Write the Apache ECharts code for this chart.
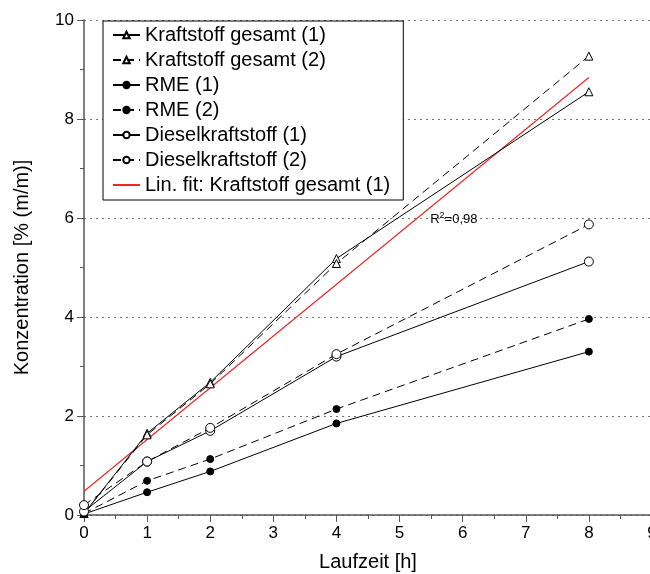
<!DOCTYPE html>
<html><head><meta charset="utf-8">
<script src="https://cdn.jsdelivr.net/npm/echarts@6/dist/echarts.min.js"></script>
<style>html,body{margin:0;padding:0;background:#fff}#c{width:650px;height:574px}</style>
</head><body><div id="c"></div>
<script>
const hours = [0, 1, 2, 4, 8];
const kraft1 = [0.03, 1.65, 2.68, 5.18, 8.55];
const kraft2 = [0.03, 1.62, 2.65, 5.08, 9.27];
const rme1 = [0.02, 0.46, 0.88, 1.85, 3.30];
const rme2 = [0.03, 0.69, 1.13, 2.14, 3.96];
const diesel1 = [0.07, 1.08, 1.70, 3.20, 5.12];
const diesel2 = [0.20, 1.08, 1.76, 3.25, 5.87];
const fitX = [0, 8];
const fitY = [0.48, 8.84];
const names = ['Kraftstoff gesamt (1)', 'Kraftstoff gesamt (2)', 'RME (1)', 'RME (2)', 'Dieselkraftstoff (1)', 'Dieselkraftstoff (2)', 'Lin. fit: Kraftstoff gesamt (1)'];

const FONT = 'Liberation Sans';
const pairs = (xs, ys) => xs.map((x, i) => [x, ys[i]]);
const dash = [8, 5];
function mk(name, ys, symbol, filled, dashed, size) {
  return {
    name, type: 'line', data: pairs(hours, ys), symbol, symbolSize: size,
    lineStyle: { color: '#000', width: 1, type: dashed ? dash : 'solid' },
    itemStyle: { color: filled ? '#000' : '#fff', borderColor: '#000', borderWidth: 1 },
    emphasis: { disabled: true }, z: 3
  };
}
const legendData = names.map((n, i) => i === 6
  ? { name: n, itemStyle: { color: 'rgba(0,0,0,0)', borderWidth: 0, borderColor: 'rgba(0,0,0,0)' } }
  : { name: n });
const chart = echarts.init(document.getElementById('c'));
chart.setOption({
  animation: false,
  textStyle: { fontFamily: FONT },
  grid: { left: 84, right: -2, top: 20, bottom: 59, containLabel: false, outerBoundsMode: 'none' },
  legend: {
    orient: 'vertical', left: 103, top: 21, padding: [4, 13, 5, 9],
    backgroundColor: '#fff', borderColor: '#000', borderWidth: 1,
    itemWidth: 27, itemHeight: 8, itemGap: 5,
    textStyle: { fontSize: 20, color: '#000', fontFamily: FONT },
    data: legendData, selectedMode: false, z: 10
  },
  xAxis: {
    type: 'value', min: 0, max: 9, interval: 1,
    name: 'Laufzeit [h]', nameLocation: 'middle', nameGap: 37,
    nameTextStyle: { fontSize: 20, color: '#000', fontFamily: FONT },
    axisLine: { lineStyle: { color: '#555', width: 1.5 } },
    axisTick: { show: true, length: 7, lineStyle: { color: '#555' } },
    minorTick: { show: true, splitNumber: 2, length: 4, lineStyle: { color: '#555' } },
    axisLabel: { fontSize: 17, color: '#000', margin: 10, fontFamily: FONT },
    splitLine: { show: false }
  },
  yAxis: {
    type: 'value', min: 0, max: 10, interval: 2,
    name: 'Konzentration [% (m/m)]', nameLocation: 'middle', nameGap: 52,
    nameTextStyle: { fontSize: 20, color: '#000', fontFamily: FONT },
    axisLine: { show: true, lineStyle: { color: '#555', width: 1.5 } },
    axisTick: { show: true, length: 7, lineStyle: { color: '#555' } },
    minorTick: { show: true, splitNumber: 2, length: 4, lineStyle: { color: '#555' } },
    axisLabel: { fontSize: 17, color: '#000', margin: 10, fontFamily: FONT },
    splitLine: { show: true, lineStyle: { color: '#777', type: [2, 4], width: 1.2 } }
  },
  series: [
    mk(names[0], kraft1, 'triangle', false, false, 8),
    mk(names[1], kraft2, 'triangle', false, true, 8),
    mk(names[2], rme1, 'circle', true, false, 7),
    mk(names[3], rme2, 'circle', true, true, 7),
    mk(names[4], diesel1, 'circle', false, false, 9),
    mk(names[5], diesel2, 'circle', false, true, 9),
    {
      name: names[6], type: 'line', data: pairs(fitX, fitY), symbol: 'none',
      lineStyle: { color: '#e8282a', width: 1.2 }, itemStyle: { color: '#e8282a' },
      emphasis: { disabled: true }, z: 2,
      markPoint: {
        symbol: 'circle', symbolSize: 0, silent: true,
        data: [{ coord: [5.86, 5.98] }],
        label: {
          show: true, position: 'inside',
          formatter: '{a|R}{s|2}{a|=0,98}',
          rich: {
            a: { fontSize: 13, color: '#000', fontFamily: FONT },
            s: { fontSize: 9, color: '#000', fontFamily: FONT, padding: [0, 0, 7, 0] }
          }
        }
      }
    }
  ]
});
</script></body></html>
